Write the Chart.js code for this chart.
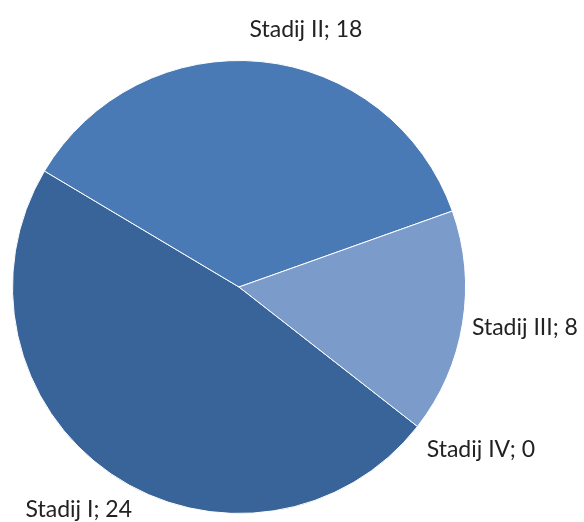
<!DOCTYPE html>
<html>
<head>
<meta charset="utf-8">
<script src="https://cdn.jsdelivr.net/npm/chart.js@4/dist/chart.umd.min.js"></script>
<style>
  html, body { margin: 0; padding: 0; background: #fff; }
  #wrap { width: 584px; height: 522px; }
</style>
</head>
<body>
<div id="wrap"><canvas id="pie" width="584" height="522"></canvas></div>
<script>
const categories = ["Stadij I", "Stadij II", "Stadij III", "Stadij IV"];
const counts = [24, 18, 8, 0];
const sliceColors = ["#38649a", "#4a7ab6", "#7b9bcb", "#a9bde0"];

// label nudges (px) from the default outside spot, like Excel's best fit
const labelNudge = [[-4, -6], [40, 18], [13, -4], [24, -8]];

const pieLabels = {
  id: "pieLabels",
  afterDatasetsDraw(chart) {
    const ctx = chart.ctx;
    const meta = chart.getDatasetMeta(0);
    ctx.save();
    ctx.font = "23px Lato";
    ctx.fillStyle = "#222";
    ctx.textAlign = "center";
    ctx.textBaseline = "middle";
    meta.data.forEach((arc, i) => {
      const p = arc.getProps(["x", "y", "startAngle", "endAngle", "outerRadius"], true);
      const mid = (p.startAngle + p.endAngle) / 2;
      const r = p.outerRadius + 50;
      const x = p.x + Math.cos(mid) * r + labelNudge[i][0];
      const y = p.y + Math.sin(mid) * r + labelNudge[i][1];
      ctx.fillText(categories[i] + "; " + counts[i], x, y);
    });
    ctx.restore();
  }
};

new Chart(document.getElementById("pie"), {
  type: "pie",
  data: {
    labels: categories,
    datasets: [
      {
        data: counts,
        backgroundColor: sliceColors,
        borderColor: "#fff",
        borderWidth: 1,
      },
    ],
  },
  options: {
    responsive: false,
    animation: false,
    rotation: 128,
    layout: { padding: { left: 12, right: 118, top: 60, bottom: 8 } },
    plugins: {
      legend: { display: false },
      tooltip: { enabled: false },
    },
  },
  plugins: [pieLabels],
});
</script>
</body>
</html>
